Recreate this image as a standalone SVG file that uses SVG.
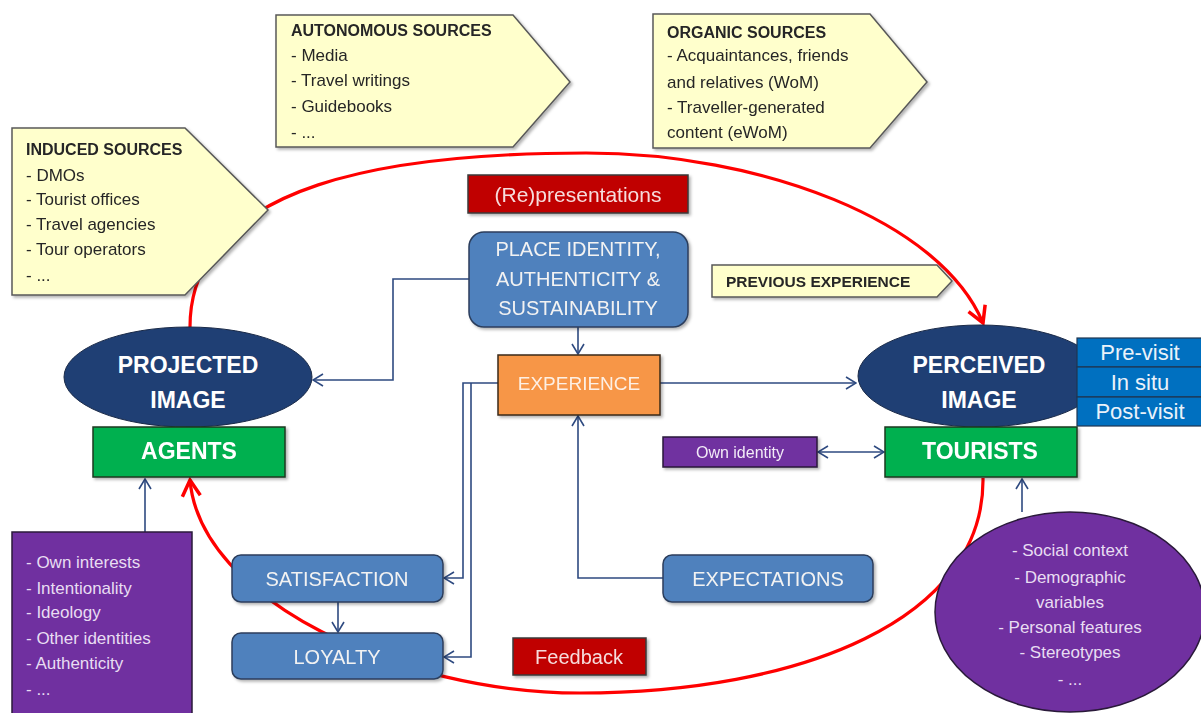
<svg xmlns="http://www.w3.org/2000/svg" width="1201" height="713" viewBox="0 0 1201 713">
<defs>
<style>
.t{font-family:"Liberation Sans",Arial,sans-serif}
.yel{fill:#FFFFCC;stroke:#595959;stroke-width:1.5}
.yt{font-family:"Liberation Sans",Arial,sans-serif;font-size:17px;fill:#262626}
.yh{font-family:"Liberation Sans",Arial,sans-serif;font-size:16px;font-weight:bold;fill:#262626}
.redbox{fill:#C00000;stroke:#3a3a3a;stroke-width:1.5}
.rt{font-family:"Liberation Sans",Arial,sans-serif;font-size:21px;fill:#F6DCDC;text-anchor:middle}
.bbox{fill:#4F81BD;stroke:#2C3E5C;stroke-width:1.5}
.bt{font-family:"Liberation Sans",Arial,sans-serif;font-size:20px;fill:#F2F2F2;text-anchor:middle}
.ell{fill:#1F3F74;stroke:#1A2A48;stroke-width:1}
.et{font-family:"Liberation Sans",Arial,sans-serif;font-size:23px;font-weight:bold;fill:#FFFFFF;text-anchor:middle}
.grn{fill:#00B050;stroke:#1E3A20;stroke-width:1.5}
.gt{font-family:"Liberation Sans",Arial,sans-serif;font-size:23px;font-weight:bold;fill:#FFFFFF;text-anchor:middle}
.vis{fill:#0070C0;stroke:#1F3550;stroke-width:1.2}
.vt{font-family:"Liberation Sans",Arial,sans-serif;font-size:22px;fill:#EAF2FA;text-anchor:middle}
.pur{fill:#7030A0;stroke:#2A1A3A;stroke-width:1.5}
.pt{font-family:"Liberation Sans",Arial,sans-serif;font-size:17px;fill:#E8DDF2}
.con{fill:none;stroke:#2E4A80;stroke-width:1.6}
.red{fill:none;stroke:#FF0000;stroke-width:3.2}
</style>
<marker id="ab" viewBox="0 0 12 14" refX="11" refY="7" markerWidth="12" markerHeight="14" markerUnits="userSpaceOnUse" orient="auto-start-reverse">
<path d="M1,1 L11,7 L1,13" fill="none" stroke="#2E4A80" stroke-width="1.6"/>
</marker>
<marker id="ar" viewBox="0 0 22 22" refX="19" refY="11" markerWidth="22" markerHeight="22" markerUnits="userSpaceOnUse" orient="auto">
<path d="M3,2 L19,11 L3,20" fill="none" stroke="#FF0000" stroke-width="3.5"/>
</marker>
<filter id="sh" x="-10%" y="-10%" width="130%" height="130%">
<feDropShadow dx="2" dy="2" stdDeviation="1.5" flood-color="#000" flood-opacity="0.3"/>
</filter>
</defs>
<rect width="1201" height="713" fill="#FFFFFF"/>

<!-- red feedback loop -->
<g id="loop">
<path class="red" d="M190,327 C190,180 400,153 586,153 C760,153 940,220 983,323" marker-end="url(#ar)"/>
<path class="red" d="M983,478 C985,620 800,693 580,693 C400,693 200,600 190,480" marker-end="url(#ar)"/>
</g>

<!-- connectors -->
<g id="connectors">
<path class="con" d="M469,279 H393 V380 H313" marker-end="url(#ab)"/>
<path class="con" d="M578,327 V354" marker-end="url(#ab)"/>
<path class="con" d="M660,383 H856" marker-end="url(#ab)"/>
<path class="con" d="M498,383 H463 V578 H444" marker-end="url(#ab)"/>
<path class="con" d="M471,383 V657 H444" marker-end="url(#ab)"/>
<path class="con" d="M663,578 H578 V416" marker-end="url(#ab)"/>
<path class="con" d="M338,602 V632" marker-end="url(#ab)"/>
<path class="con" d="M818,452 H884" marker-start="url(#ab)" marker-end="url(#ab)"/>
<path class="con" d="M1022,512 V479" marker-end="url(#ab)"/>
<path class="con" d="M145,532 V479" marker-end="url(#ab)"/>
</g>

<g id="induced" filter="url(#sh)">
<polygon class="yel" points="12,128 185,128 268,210 185,295 12,295"/>
<text class="yh" x="26" y="155">INDUCED SOURCES</text>
<text class="yt" x="26" y="181">- DMOs</text>
<text class="yt" x="26" y="205">- Tourist offices</text>
<text class="yt" x="26" y="230">- Travel agencies</text>
<text class="yt" x="26" y="255">- Tour operators</text>
<text class="yt" x="26" y="281">- ...</text>
</g>

<g id="autonomous" filter="url(#sh)">
<polygon class="yel" points="276,15 513,15 570,82 513,147 276,147"/>
<text class="yh" x="291" y="36">AUTONOMOUS SOURCES</text>
<text class="yt" x="291" y="61">- Media</text>
<text class="yt" x="291" y="86">- Travel writings</text>
<text class="yt" x="291" y="112">- Guidebooks</text>
<text class="yt" x="291" y="138">- ...</text>
</g>

<g id="organic" filter="url(#sh)">
<polygon class="yel" points="653,14 870,14 927,82 870,148 653,148"/>
<text class="yh" x="667" y="38">ORGANIC SOURCES</text>
<text class="yt" x="667" y="61">- Acquaintances, friends</text>
<text class="yt" x="667" y="88">and relatives (WoM)</text>
<text class="yt" x="667" y="113">- Traveller-generated</text>
<text class="yt" x="667" y="138">content (eWoM)</text>
</g>

<g id="previous" filter="url(#sh)">
<polygon class="yel" points="712,265 937,265 952,281 937,297 712,297"/>
<text class="yh" x="726" y="287" style="font-size:15.5px">PREVIOUS EXPERIENCE</text>
</g>

<g id="representations" filter="url(#sh)">
<rect class="redbox" x="468" y="175" width="220" height="38"/>
<text class="rt" x="578" y="202">(Re)presentations</text>
</g>

<g id="place" filter="url(#sh)">
<rect class="bbox" x="469" y="232" width="219" height="95" rx="15"/>
<text class="bt" x="578" y="256">PLACE IDENTITY,</text>
<text class="bt" x="578" y="286">AUTHENTICITY &amp;</text>
<text class="bt" x="578" y="315">SUSTAINABILITY</text>
</g>

<g id="experience" filter="url(#sh)">
<rect x="498" y="355" width="162" height="60" fill="#F79646" stroke="#3A2A1A" stroke-width="1.5"/>
<text class="bt" x="579" y="390" style="fill:#FDEFE4;font-size:19px">EXPERIENCE</text>
</g>

<g id="projected">
<ellipse class="ell" cx="188" cy="377" rx="124" ry="50"/>
<text class="et" x="188" y="373">PROJECTED</text>
<text class="et" x="188" y="408">IMAGE</text>
</g>

<g id="agents" filter="url(#sh)">
<rect class="grn" x="93" y="427" width="192" height="50"/>
<text class="gt" x="189" y="459">AGENTS</text>
</g>

<g id="perceived">
<ellipse class="ell" cx="980" cy="376" rx="122" ry="51"/>
<text class="et" x="979" y="373">PERCEIVED</text>
<text class="et" x="979" y="408">IMAGE</text>
</g>

<g id="visits">
<rect class="vis" x="1077" y="338" width="126" height="29"/>
<rect class="vis" x="1077" y="367" width="126" height="30"/>
<rect class="vis" x="1077" y="397" width="126" height="29"/>
<text class="vt" x="1140" y="360">Pre-visit</text>
<text class="vt" x="1140" y="390">In situ</text>
<text class="vt" x="1140" y="419">Post-visit</text>
</g>

<g id="tourists" filter="url(#sh)">
<rect class="grn" x="885" y="427" width="192" height="50"/>
<text class="gt" x="980" y="459">TOURISTS</text>
</g>

<g id="ownidentity" filter="url(#sh)">
<rect class="pur" x="663" y="437" width="154" height="30"/>
<text class="t" x="740" y="458" style="font-size:16px;fill:#F2ECF7;text-anchor:middle">Own identity</text>
</g>

<g id="satisfaction" filter="url(#sh)">
<rect class="bbox" x="232" y="555" width="211" height="47" rx="9"/>
<text class="bt" x="337" y="586">SATISFACTION</text>
</g>

<g id="loyalty" filter="url(#sh)">
<rect class="bbox" x="232" y="633" width="211" height="46" rx="9"/>
<text class="bt" x="337" y="664">LOYALTY</text>
</g>

<g id="expectations" filter="url(#sh)">
<rect class="bbox" x="663" y="555" width="210" height="47" rx="9"/>
<text class="bt" x="768" y="586">EXPECTATIONS</text>
</g>

<g id="feedback" filter="url(#sh)">
<rect class="redbox" x="513" y="638" width="133" height="37"/>
<text class="rt" x="579" y="664" style="font-size:20px">Feedback</text>
</g>

<g id="agentfactors">
<rect class="pur" x="12" y="532" width="180" height="190"/>
<text class="pt" x="26" y="568">- Own interests</text>
<text class="pt" x="26" y="594">- Intentionality</text>
<text class="pt" x="26" y="618">- Ideology</text>
<text class="pt" x="26" y="644">- Other identities</text>
<text class="pt" x="26" y="669">- Authenticity</text>
<text class="pt" x="26" y="695">- ...</text>
</g>

<g id="touristfactors">
<ellipse class="pur" cx="1070" cy="612" rx="135" ry="100"/>
<text class="pt" x="1070" y="556" text-anchor="middle">- Social context</text>
<text class="pt" x="1070" y="583" text-anchor="middle">- Demographic</text>
<text class="pt" x="1070" y="608" text-anchor="middle">variables</text>
<text class="pt" x="1070" y="633" text-anchor="middle">- Personal features</text>
<text class="pt" x="1070" y="658" text-anchor="middle">- Stereotypes</text>
<text class="pt" x="1070" y="685" text-anchor="middle">- ...</text>
</g>
</svg>
